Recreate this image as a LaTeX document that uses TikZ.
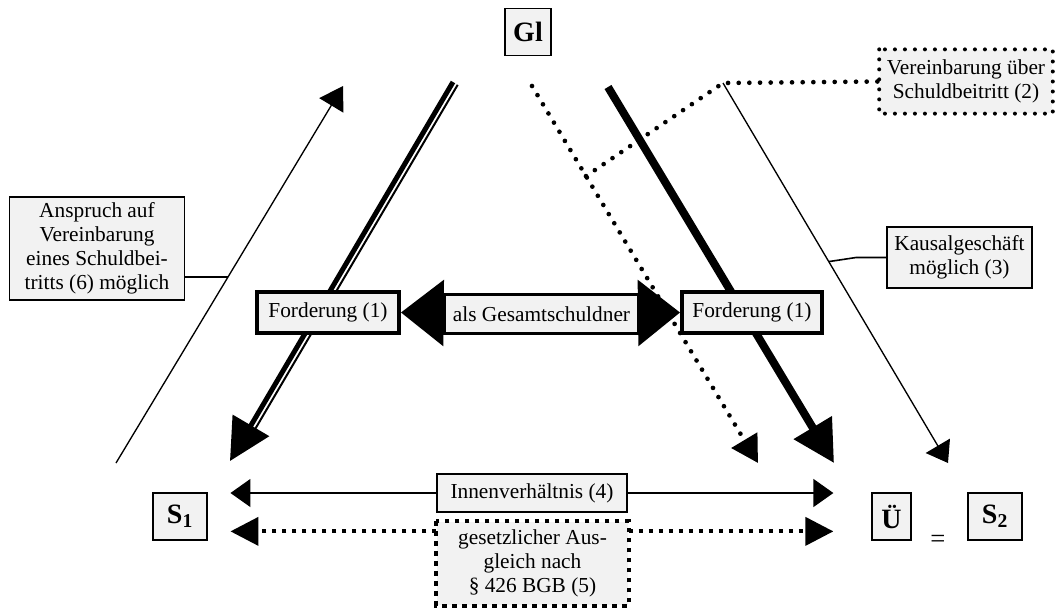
\documentclass[tikz,border=0pt]{standalone}
\usepackage{fontspec}
\setmainfont{Liberation Serif}
\usetikzlibrary{arrows.meta,calc}
\definecolor{boxgray}{HTML}{F2F2F2}

\begin{document}
\begin{tikzpicture}[x=0.75pt,y=-0.75pt,
	box/.style={draw,fill=boxgray,line width=1.2pt,align=center,inner sep=2pt,font=\fontsize{16}{18}\selectfont},
	party/.style={draw,fill=boxgray,line width=1.2pt,inner sep=0pt,minimum height=35pt,font=\fontsize{21}{24}\selectfont\bfseries},
	thickbox/.style={box,line width=3pt},
	rdot/.style={line width=3.5pt,line cap=round,dash pattern=on 0pt off 8pt},
	sqdot/.style={line width=3pt,dash pattern=on 3.5pt off 4pt},
	]
	\useasboundingbox (0,0) rectangle (1058,608);

	% parties
	\node[party,minimum width=34.5pt] (gl) at (528,32) {Gl};
	\node[party,minimum width=40.5pt] (s1) at (180,516.5) {S\textsubscript{1}};
	\node[party,minimum width=29pt] (ue) at (891.5,516.5) {Ü};
	\node[party,minimum width=40.5pt] (s2) at (995,516.5) {S\textsubscript{2}};
	\node[font=\fontsize{20}{24}\selectfont] (eq) at (938,541) {=};

	% line ends
	\coordinate (a0) at (116,463);  \coordinate (a1) at (343,86);
	\coordinate (b0) at (453,82);   \coordinate (b1) at (230,461);
	\coordinate (c0) at (532,86);   \coordinate (c1) at (758,463);
	\coordinate (d0) at (608,87);   \coordinate (d1) at (834,463);
	\coordinate (e0) at (723,83);   \coordinate (e1) at (948,463);

	\draw[line width=1pt,-{Triangle[length=17pt,width=21pt]}] (a0) -- (a1);
	\draw[line width=3.75pt,-{Triangle[length=31pt,width=31pt]}] (b0) -- (b1);
	\draw[line width=1.5pt] ($(b0)+(4.7,2.8)$) -- ($(b1)!0.09!(b0)+(4.7,2.8)$);
	\draw[rdot,-{Triangle[length=20pt,width=22pt]}] (c0) -- (c1);
	\draw[line width=6pt,-{Triangle[length=31pt,width=32pt]}] (d0) -- (d1);
	\draw[line width=1pt,-{Triangle[length=15pt,width=21pt]}] (e0) -- (e1);

	% side notes
	\node[box,minimum width=131pt,minimum height=77pt] (ansp) at (97,248.5)
		{Anspruch auf\\Vereinbarung\\eines Schuldbei-\\tritts (6) möglich};
	\node[box,minimum width=109pt,minimum height=46pt] (kaus) at (959.5,257.5)
		{Kausalgeschäft\\möglich (3)};
	\node[box,draw=none,minimum width=129pt,minimum height=47pt] (ver) at (966,81.5)
		{Vereinbarung über\\Schuldbeitritt (2)};
	\draw[rdot,line width=3pt,dash pattern=on 0pt off 7.5pt] (ver.north west) rectangle (ver.south east);

	\coordinate (a2) at ($(a0)!0.493!(a1)$);
	\draw[line width=1.2pt] (a2) -- (a2 -| ansp.east);
	\coordinate (e2) at ($(e0)!0.47!(e1)$);
	\draw[line width=1.2pt] (e2) -- ($(kaus.west)+(-30,0)$) -- (kaus.west);
	\coordinate (c2) at ($(c0)!0.239!(c1)$);
	\draw[rdot] (c2) -- (e0) -- (ver.west);

	% claims
	\node[thickbox,minimum width=106.5pt,minimum height=31pt] (fl) at (328,312.5) {Forderung (1)};
	\node[thickbox,minimum width=105pt,minimum height=31pt] (fr) at (752,312.5) {Forderung (1)};
	\draw[line width=2pt,-{Triangle[length=32pt,width=49.5pt]}] (541.5,314) -- (fl.east);
	\draw[line width=2pt,-{Triangle[length=31.5pt,width=49.5pt]}] (541.5,314) -- (fr.west);
	\node[box,line width=2.6pt,minimum width=146pt,minimum height=29pt] (ges) at (541.5,314) {als Gesamtschuldner};

	% internal relation
	\node[box,minimum width=142.5pt,minimum height=28.5pt] (innen) at (532,493) {Innenverhältnis (4)};
	\draw[line width=1pt,-{Triangle[length=15pt,width=21pt]}] (innen.west) -- ([xshift=17pt]s1.east |- innen.west);
	\draw[line width=1pt,-{Triangle[length=15pt,width=21pt]}] (innen.east) -- ([xshift=-28.5pt]ue.west |- innen.east);

	\node[box,draw=none,minimum width=143pt,minimum height=62pt] (gesetz) at (532.5,563.5)
		{gesetzlicher Aus-\\gleich nach\\§ 426 BGB (5)};
	\draw[sqdot] (gesetz.north west) rectangle (gesetz.south east);
	\coordinate (gl1) at ([yshift=-7.5pt]gesetz.north west);
	\coordinate (gr1) at ([yshift=-7.5pt]gesetz.north east);
	\draw[sqdot,-{Triangle[length=21pt,width=21pt]}] (gl1) -- ([xshift=17pt]s1.east |- gl1);
	\draw[sqdot,-{Triangle[length=21pt,width=21pt]}] (gr1) -- ([xshift=-28.5pt]ue.west |- gr1);
\end{tikzpicture}
\end{document}
